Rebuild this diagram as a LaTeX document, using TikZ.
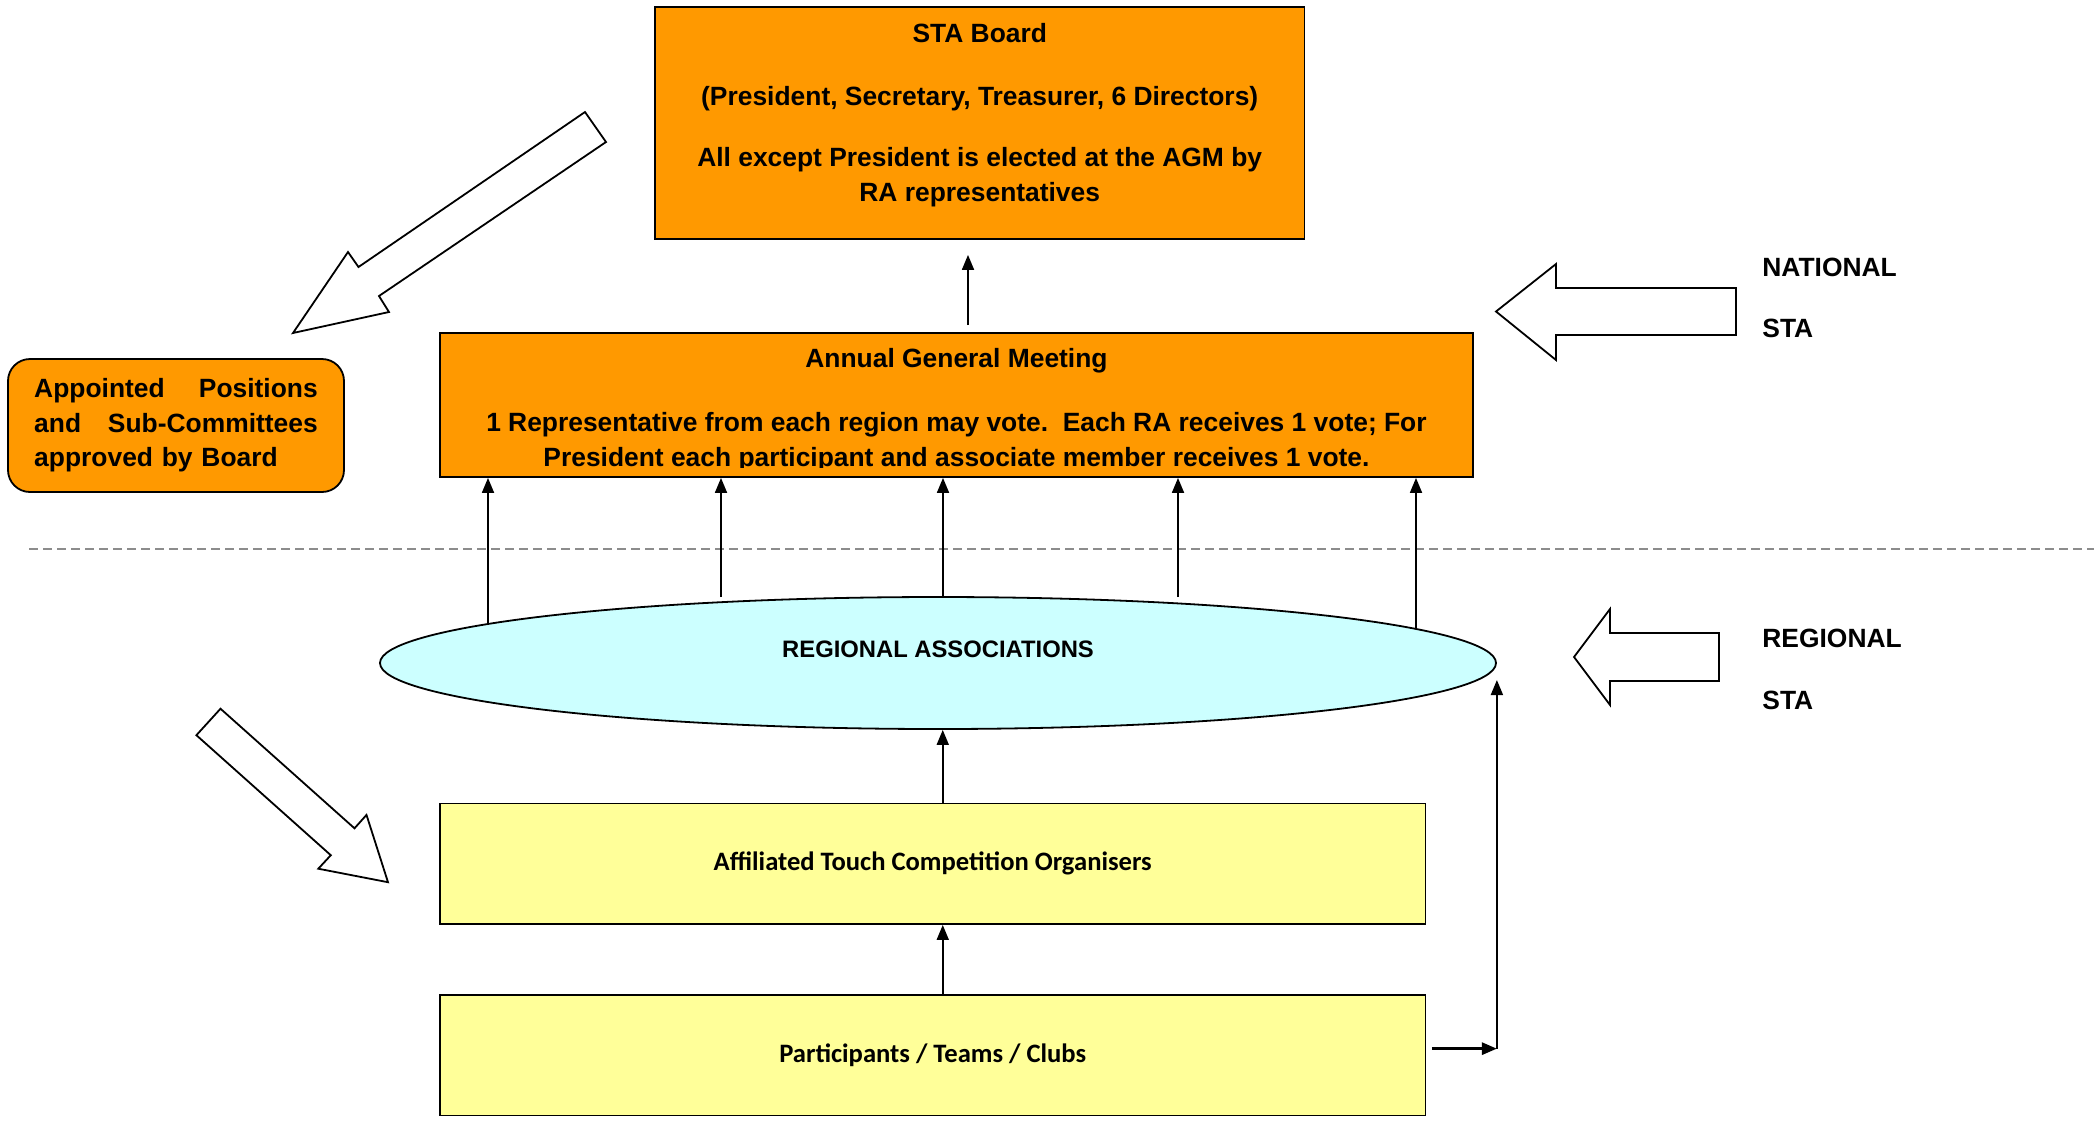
\documentclass[tikz,border=0pt]{standalone}
\usepackage{fontspec}
\setmainfont{Liberation Sans}
\newfontfamily\carlito{Carlito}
\usepackage{tikz}
\usetikzlibrary{arrows.meta,positioning,shapes.geometric}

\definecolor{staorange}{HTML}{FF9900}
\definecolor{stayellow}{HTML}{FFFF99}
\definecolor{stacyan}{HTML}{CCFFFF}

\begin{document}
\begin{tikzpicture}[
  x=0.5pt, y=-0.5pt,
  every node/.style={font=\fontsize{13.2}{17.3}\selectfont\bfseries},
  orgbox/.style={draw, line width=0.9pt, fill=staorange, inner sep=0pt},
  tierbox/.style={draw, line width=0.9pt, fill=stayellow, inner sep=0pt,
    minimum width=492.75pt, minimum height=60.25pt,
    font=\carlito\fontsize{13.3}{16}\selectfont\bfseries},
  txt/.style={align=center, inner sep=0pt},
  hollow/.style={draw, line width=0.9pt, fill=white, line join=miter},
  link/.style={->, line width=0.9pt},
  divider/.style={draw=black!45, line width=0.9pt, dash pattern=on 4.5pt off 2.5pt},
  level/.style={anchor=west, inner sep=0pt},
  >={Triangle[length=7.5pt,width=6pt]}
]
  \useasboundingbox (0,0) rectangle (2094,1121);

  % national level
  \node[orgbox, minimum width=324.75pt, minimum height=116pt] (board) at (979.75,123) {};
  \node[txt, anchor=north] (boardtxt) at ([yshift=-8.4pt]board.north)
    {STA Board\\[14.2pt](President, Secretary, Treasurer, 6 Directors)\\[13.2pt]All except President is elected at the AGM by\\RA representatives};

  \node[orgbox, minimum width=516.5pt, minimum height=72pt] (agm) at (956.5,405) {};
  \begin{scope}
    \clip (agm.north west) rectangle ([yshift=5pt]agm.south east);
    \node[txt, anchor=north] (agmtxt) at ([yshift=-8pt]agm.north)
      {Annual General Meeting\\[14.7pt]1 Representative from each region may vote.\ \ Each RA receives 1 vote; For\\President each participant and associate member receives 1 vote.};
  \end{scope}

  \node[orgbox, rounded corners=11pt, minimum width=168pt, minimum height=66.5pt,
    text width=141.75pt, align=left] (appt) at (176,425.5)
    {Appointed\hfill Positions\\and\hfill Sub-Committees\\approved by Board};

  \draw[link, shorten <=3.5pt, shorten >=7.5pt] ([xshift=5.75pt]agm.north) -- ([xshift=5.75pt]agm.north |- board.south);

  % split between national and regional
  \coordinate (divl) at (29,549);
  \draw[divider] (divl) -- ++(2065,0);

  % regional level
  \node[ellipse, draw, line width=0.9pt, fill=stacyan, minimum width=558pt, minimum height=66pt, inner sep=0pt,
    label={[font=\fontsize{11.9}{14}\selectfont\bfseries, yshift=7pt]center:REGIONAL ASSOCIATIONS}] (ra) at (938,663) {};

  \foreach \i/\x/\y in {1/488/623, 2/721/597, 3/943/597, 4/1178/597, 5/1416/628} {
    \coordinate (foot\i) at (\x,\y);
    \draw[link] (foot\i) -- (foot\i |- agm.south);
  }

  \node[tierbox] (aff) at (932.75,863.8) {Affiliated Touch Competition Organisers};
  \node[tierbox] (part) at (932.75,1055.25) {Participants / Teams / Clubs};

  \draw[link] ([xshift=5pt]aff.north) -- ([xshift=5pt]aff.north |- ra.south);
  \draw[link] ([xshift=5pt]part.north) -- ([xshift=5pt]part.north |- aff.south);

  \coordinate (turn) at ([yshift=3.3pt]part.east -| ra.east);
  \draw[link, line width=1.4pt] ([shift={(2.75pt,3.3pt)}]part.east) -- (turn);
  \draw[link] (turn) -- ([yshift=-8.5pt]ra.east);

  % block arrows
  \draw[hollow] (293,333) -- (348,252) -- (358.5,267) -- (585,112) -- (606,142) -- (379,296) -- (389,312) -- cycle;
  \draw[hollow] (388,882.2) -- (318.3,868.7) -- (330.8,855.2) -- (196.4,735.2) -- (220.5,708.7) -- (354.5,828.3) -- (366.5,814.9) -- cycle;
  \draw[hollow] (1496,311.5) -- (1556,264) -- (1556,288) -- (1736,288) -- (1736,335) -- (1556,335) -- (1556,360) -- cycle;
  \draw[hollow] (1574,657) -- (1610,609) -- (1610,633) -- (1719,633) -- (1719,681) -- (1610,681) -- (1610,705) -- cycle;

  \node[level] (natl) at (1762,267) {NATIONAL};
  \node[level] (natsta) at (1762,328) {STA};
  \node[level] (regl) at (1762,638) {REGIONAL};
  \node[level] (regsta) at (1762,700) {STA};
\end{tikzpicture}
\end{document}
